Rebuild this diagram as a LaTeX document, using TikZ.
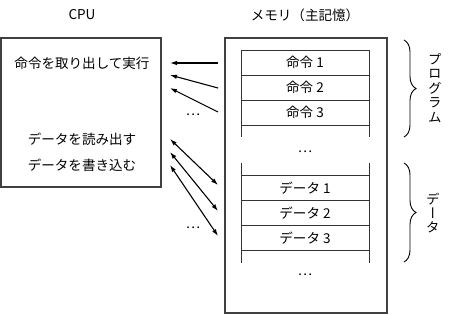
\documentclass[tikz,border=0pt]{standalone}
\usepackage{fontspec}
\setmainfont{Noto Sans CJK JP}
\newfontfamily\vertjp[RawFeature=+vert]{Noto Sans CJK JP}
\usetikzlibrary{arrows.meta, decorations.pathreplacing, positioning}

\begin{document}
\begin{tikzpicture}[
    x=1bp, y=-1bp,
    font=\fontsize{13.6}{15}\selectfont,
    unit/.style={draw=black!75, line width=1.3bp, inner sep=0pt},
    cell/.style={draw=black!80, line width=0.8bp, minimum width=128bp,
      minimum height=25bp, inner sep=0pt, outer sep=0pt},
    rail/.style={draw=black!80, line width=0.8bp},
    fetch/.style={line width=1.1bp, -{Latex[length=7bp, width=4.5bp]}},
    rw/.style={line width=1.1bp,
      {Latex[length=7bp, width=4.5bp]}-{Latex[length=7bp, width=4.5bp]}},
    grp/.style={draw, line width=0.9bp, decorate,
      decoration={brace, amplitude=12bp}},
    vlabel/.style={align=center, inner sep=0pt,
      font=\vertjp\fontsize{13.6}{14.5}\selectfont},
  ]
    \useasboundingbox (0,0) rectangle (450,314);
    % titles
    \node (cputitle) at (82,15) {CPU};
    \node (memtitle) at (305,15) {メモリ（主記憶）};
    % CPU
    \node[unit, minimum width=160bp, minimum height=149bp] (cpu) at (81,112.5) {};
    \node (fetchtxt) at (82,63) {命令を取り出して実行};
    \node (readtxt) at (82,139) {データを読み出す};
    \node (writetxt) at (82,165) {データを書き込む};
    % memory
    \node[unit, minimum width=162bp, minimum height=275bp] (mem) at (306,175.5) {};
    \node[cell] (ins1) at (305,62.5) {命令 1};
    \node[cell, below=0pt of ins1] (ins2) {命令 2};
    \node[cell, below=0pt of ins2] (ins3) {命令 3};
    \draw[rail] (ins3.south west) -- ++(0,12);
    \draw[rail] (ins3.south east) -- ++(0,12);
    \node (insdots) at (305,152) {…};
    \node[cell] (dat1) at (305,188) {データ 1};
    \node[cell, below=0pt of dat1] (dat2) {データ 2};
    \node[cell, below=0pt of dat2] (dat3) {データ 3};
    \draw[rail] (dat1.north west) -- ++(0,-13);
    \draw[rail] (dat1.north east) -- ++(0,-13);
    \draw[rail] (dat3.south west) -- ++(0,12);
    \draw[rail] (dat3.south east) -- ++(0,12);
    \node (datdots) at (305,275) {…};
    % arrow ends
    \coordinate (f1) at (218,63);  \coordinate (g1) at (170,63);
    \coordinate (f2) at (218,88);  \coordinate (g2) at (170,75);
    \coordinate (f3) at (218,112); \coordinate (g3) at (170,88);
    \coordinate (d1) at (218,185); \coordinate (e1) at (170,139);
    \coordinate (d2) at (218,211); \coordinate (e2) at (170,152);
    \coordinate (d3) at (218,236); \coordinate (e3) at (170,165);
    % instruction fetch
    \draw[fetch] (f1) -- (g1);
    \draw[fetch] (f2) -- (g2);
    \draw[fetch] (f3) -- (g3);
    \node (fdots) at (193,115) {…};
    % data read / write
    \draw[rw] (e1) -- (d1);
    \draw[rw] (e2) -- (d2);
    \draw[rw] (e3) -- (d3);
    \node (ddots) at (193,228) {…};
    % braces
    \coordinate (pa) at (404,40);  \coordinate (pb) at (404,137);
    \coordinate (qa) at (404,163); \coordinate (qb) at (404,262);
    \draw[grp] (pa) -- (pb);
    \draw[grp] (qa) -- (qb);
    \node[vlabel] (proglbl) at (435,88) {プ\\ロ\\グ\\ラ\\ム};
    \node[vlabel] (datlbl) at (433,213) {デ\\ー\\タ};
\end{tikzpicture}
\end{document}
